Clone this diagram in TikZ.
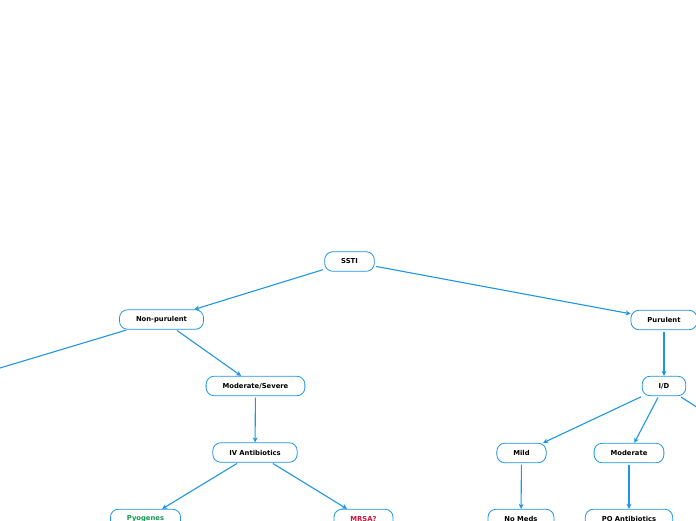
\documentclass[tikz,border=0pt]{standalone}
\usepackage{fontspec}
\setmainfont{DejaVu Sans}
\usetikzlibrary{arrows.meta}
\definecolor{linkblue}{RGB}{30,150,225}
\definecolor{pyogreen}{RGB}{20,150,80}
\definecolor{mrsared}{RGB}{200,20,60}

\begin{document}
\begin{tikzpicture}[x=1pt,y=-1pt,>={Stealth[length=5pt,width=5pt]},
 box/.style={draw=linkblue,line width=0.8pt,rounded corners=8pt,fill=white,
   minimum height=19.5pt,inner xsep=16.5pt,inner ysep=0pt,
   font=\fontsize{6.8}{8}\selectfont\bfseries},
 link/.style={->,draw=linkblue,line width=1.1pt,shorten <=1.5pt}]
\useasboundingbox (0,0) rectangle (696,520);
\clip (0,0) rectangle (696,520);
\node[box] (ssti) at (349.5,261.5) {SSTI};
\node[box] (nonpur) at (161.5,319.5) {Non-purulent};
\node[box] (pur) at (664,320) {Purulent};
\node[box] (modsev) at (255.5,386) {Moderate/Severe};
\node[box] (id) at (664,386) {I/D};
\node[box] (iv) at (255,452.5) {IV Antibiotics};
\node[box] (mild) at (521.5,453) {Mild};
\node[box] (mod) at (629,453) {Moderate};
\node[box,text=pyogreen] (pyo) at (145.5,519) {Pyogenes};
\node[box,text=mrsared] (mrsa) at (363.5,519) {MRSA?};
\node[box] (nomeds) at (521,519) {No Meds};
\node[box] (po) at (629,519) {PO Antibiotics};
% branches leaving the frame
\coordinate (mildleft) at (-100,398);
\coordinate (idright) at (760,448);
\draw[link] (ssti) -- (nonpur);
\draw[link] (ssti) -- (pur);
\draw[link] (nonpur) -- (mildleft);
\draw[link] (nonpur) -- (modsev);
\draw[link] (modsev) -- (iv);
\draw[link] (iv) -- (pyo);
\draw[link] (iv) -- (mrsa);
\draw[link] (pur) -- (id);
\draw[link] (id) -- (mild);
\draw[link] (id) -- (mod);
\draw[link] (id) -- (idright);
\draw[link] (mild) -- (nomeds);
\draw[link] (mod) -- (po);
\end{tikzpicture}
\end{document}
